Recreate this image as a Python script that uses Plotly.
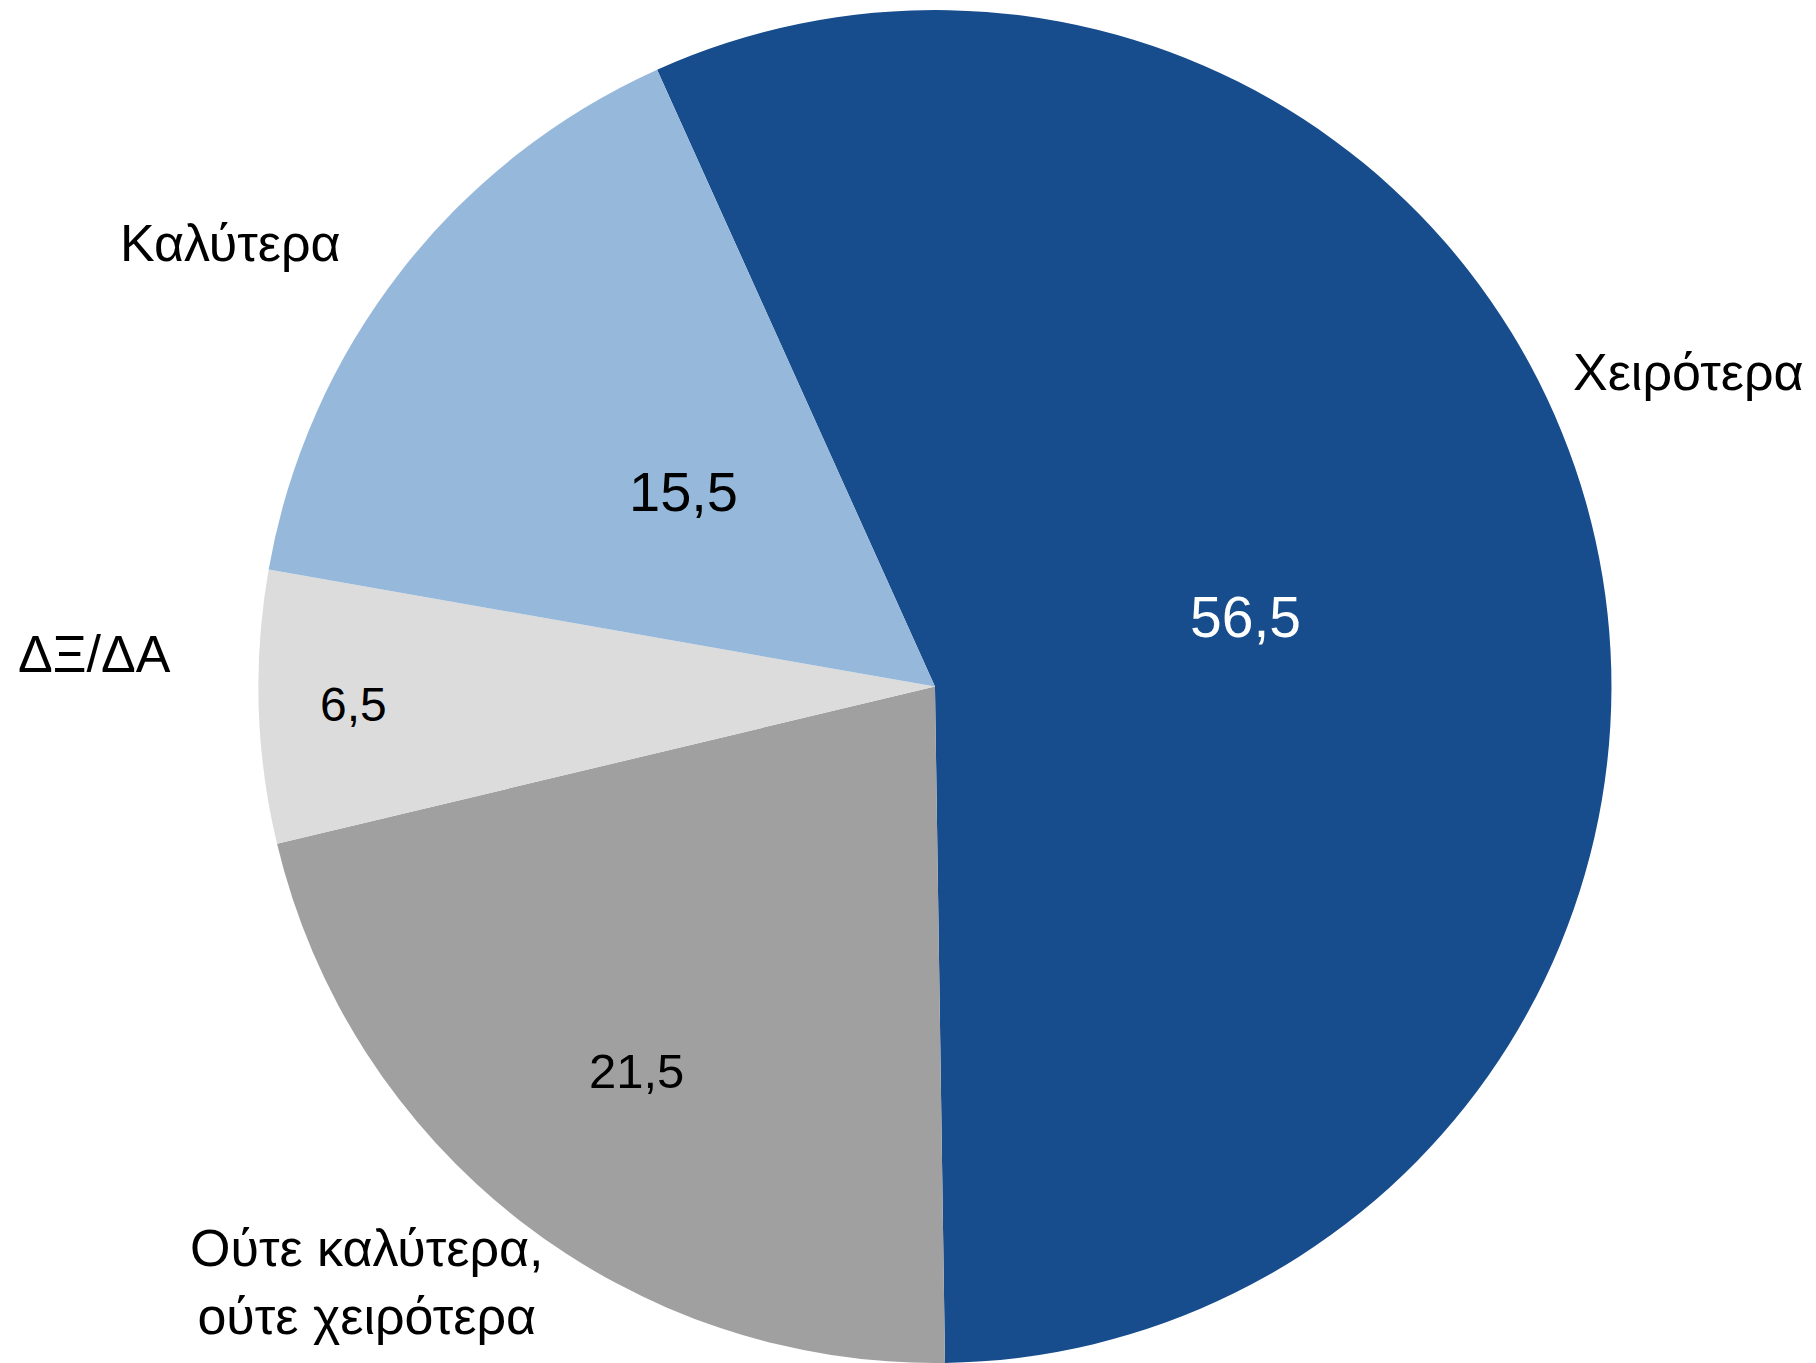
import math
import plotly.graph_objects as go

# data, clockwise from the top-left boundary
labels = ['Χειρότερα', 'Ούτε καλύτερα,<br>ούτε χειρότερα', 'ΔΞ/ΔΑ', 'Καλύτερα']
values = [56.5, 21.5, 6.5, 15.5]
colors = ['#174C8D', '#A0A0A0', '#DCDCDC', '#96B9DB']

# styling for the in-slice numbers
value_font_sizes = [57, 49, 48, 56]
value_font_colors = ['white', 'black', 'black', 'black']
value_radius_frac = [0.47, 0.72, 0.86, 0.47]

# category label positions in pixels (x, y from top)
label_pos = [(1688, 372), (367, 1282), (94, 654), (230, 243)]

W, H = 1816, 1363
margin_t = 10
rotation = -24.25
dom_x = [0.1423, 0.8874]

font = 'Helvetica, Arial, Liberation Sans, sans-serif'

fig = go.Figure()

fig.add_trace(go.Pie(
    labels=labels,
    values=values,
    marker=dict(colors=colors, line=dict(width=0)),
    sort=False,
    direction='clockwise',
    rotation=rotation,
    textinfo='none',
    hoverinfo='label+value',
    showlegend=False,
    domain=dict(x=dom_x, y=[0, 1])))

# ----------------------------------------------
# pie geometry in pixels, used to place the numbers
plot_h = H - margin_t
cx = (dom_x[0] + dom_x[1]) / 2 * W
cy = margin_t + plot_h / 2
R = plot_h / 2

total = sum(values)
start = rotation
annotations = []
for i, v in enumerate(values):
    span = v / total * 360
    mid = math.radians(start + span / 2)
    start += span
    r = value_radius_frac[i] * R
    px = cx + r * math.sin(mid)
    py = cy - r * math.cos(mid)
    annotations.append(dict(
        x=px / W, y=(H - py) / plot_h,
        xref='paper', yref='paper',
        text=f'{v:.1f}'.replace('.', ','),
        showarrow=False, xanchor='center', yanchor='middle',
        font=dict(family=font, size=value_font_sizes[i], color=value_font_colors[i])))

for lab, (px, py) in zip(labels, label_pos):
    annotations.append(dict(
        x=px / W, y=(H - py) / plot_h,
        xref='paper', yref='paper',
        text=lab, showarrow=False,
        xanchor='center', yanchor='middle', align='center',
        font=dict(family=font, size=52, color='black')))

fig.update_layout(
    width=W, height=H,
    margin=dict(l=0, r=0, t=margin_t, b=0),
    paper_bgcolor='white',
    plot_bgcolor='white',
    annotations=annotations)

# the default page margin pushes the figure 8px down and right
fig.write_html("out.html", config={'displayModeBar': False},
               post_script="document.body.style.margin = '0';")
